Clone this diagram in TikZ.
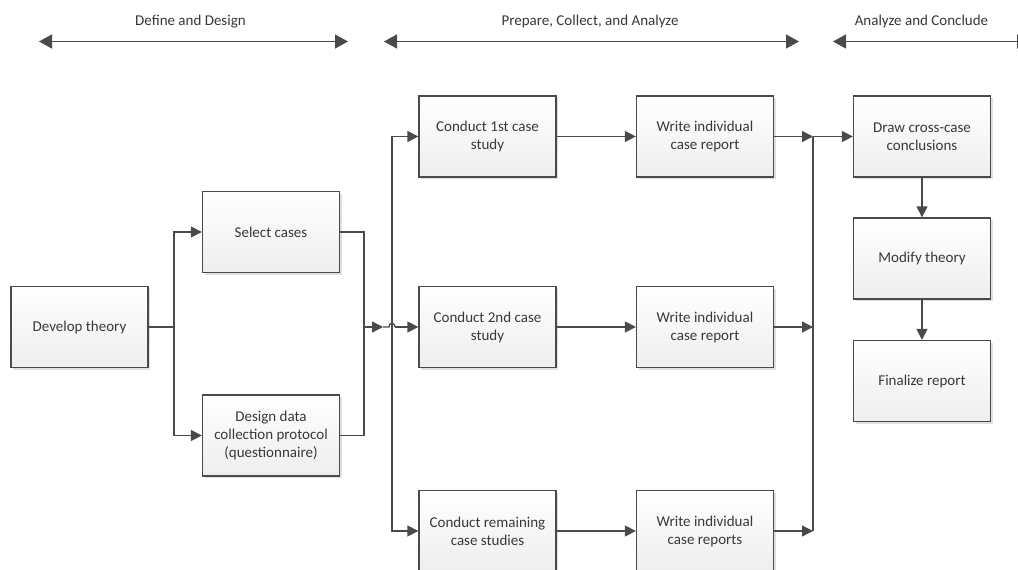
\documentclass[tikz,border=0pt]{standalone}
\usepackage{fontspec}
\setmainfont{Carlito}
\usetikzlibrary{arrows.meta,shadows}
\definecolor{linec}{HTML}{4A4A4A}
\definecolor{textc}{HTML}{383838}
\definecolor{boxb}{HTML}{EEEEEE}
\tikzset{
  box/.style={draw=linec, line width=1.3pt, top color=white, bottom color=boxb,
    minimum width=137pt, minimum height=81pt, inner sep=2pt, align=center,
    text=textc, font=\fontsize{15}{18}\selectfont,
    drop shadow={shadow xshift=2pt, shadow yshift=-2pt, fill=black, opacity=0.12}},
  conn/.style={draw=linec, line width=1.3pt},
  arr/.style={conn, -{Triangle[length=11pt,width=11pt]}},
  spanarrow/.style={conn, {Triangle[length=13pt,width=14pt]}-{Triangle[length=13pt,width=14pt]}},
  hdr/.style={text=textc, font=\fontsize{15}{18}\selectfont, inner sep=0pt}
}
\begin{document}
\begin{tikzpicture}[x=1pt,y=-1pt]
\clip (0,0) rectangle (1018,570);
\fill[white] (0,0) rectangle (1018,570);

% headers
\node[hdr] (h1) at (190.5,22) {Define and Design};
\node[hdr] (h2) at (590,22) {Prepare, Collect, and Analyze};
\node[hdr] (h3) at (921.5,22) {Analyze and Conclude};
\coordinate (a1l) at (39,41.5);
\coordinate (a1r) at (348,41.5);
\coordinate (a2l) at (384,41.5);
\coordinate (a2r) at (799,41.5);
\coordinate (a3l) at (833,41.5);
\coordinate (a3r) at (1030,41.5);
\draw[spanarrow] (a1l) -- (a1r);
\draw[spanarrow] (a2l) -- (a2r);
\draw[spanarrow] (a3l) -- (a3r);

% boxes
\node[box] (dev) at (79.5,327) {Develop theory};
\node[box] (sel) at (271,232) {Select cases};
\node[box] (des) at (271,435.5) {Design data\\collection protocol\\(questionnaire)};
\node[box] (c1) at (487.5,136.5) {Conduct 1st case\\study};
\node[box] (c2) at (487.5,327) {Conduct 2nd case\\study};
\node[box] (c3) at (487.5,531) {Conduct remaining\\case studies};
\node[box] (w1) at (705,136.5) {Write individual\\case report};
\node[box] (w2) at (705,327) {Write individual\\case report};
\node[box] (w3) at (705,531) {Write individual\\case reports};
\node[box] (dr) at (922,136.5) {Draw cross-case\\conclusions};
\node[box] (mod) at (922,258.5) {Modify theory};
\node[box] (fin) at (922,381) {Finalize report};

% left part
\coordinate (j1) at (174,327);
\draw[conn] (dev.east) -- (j1);
\draw[arr] (j1) |- (sel.west);
\draw[arr] (j1) |- (des.west);
\coordinate (j2) at (364,327);
\draw[conn] (sel.east) -| (j2);
\draw[conn] (des.east) -| (j2);
\coordinate (ah) at (383,327);
\draw[arr] (j2) -- (ah);
\coordinate (bus) at (392,327);
\draw[arr] (bus) |- (c1.west);
\draw[arr] (bus) |- (c3.west);
\coordinate (hs) at (389,327);
\coordinate (he) at (395,327);
\draw[conn] (ah) -- (hs) .. controls (389,322) and (395,322) .. (he);
\draw[arr] (he) -- (c2.west);

% middle
\draw[arr] (c1) -- (w1);
\draw[arr] (c2) -- (w2);
\draw[arr] (c3) -- (w3);

% right bus
\coordinate (r1) at (813,136.5);
\coordinate (r2) at (813,327);
\coordinate (r3) at (813,531);
\draw[arr] (w1.east) -- (r1);
\draw[arr] (w2.east) -- (r2);
\draw[arr] (w3.east) -- (r3);
\draw[conn] (r1) -- (r3);
\draw[arr] (r1) -- (dr.west);
\draw[arr] (dr) -- (mod);
\draw[arr] (mod) -- (fin);
\end{tikzpicture}
\end{document}
